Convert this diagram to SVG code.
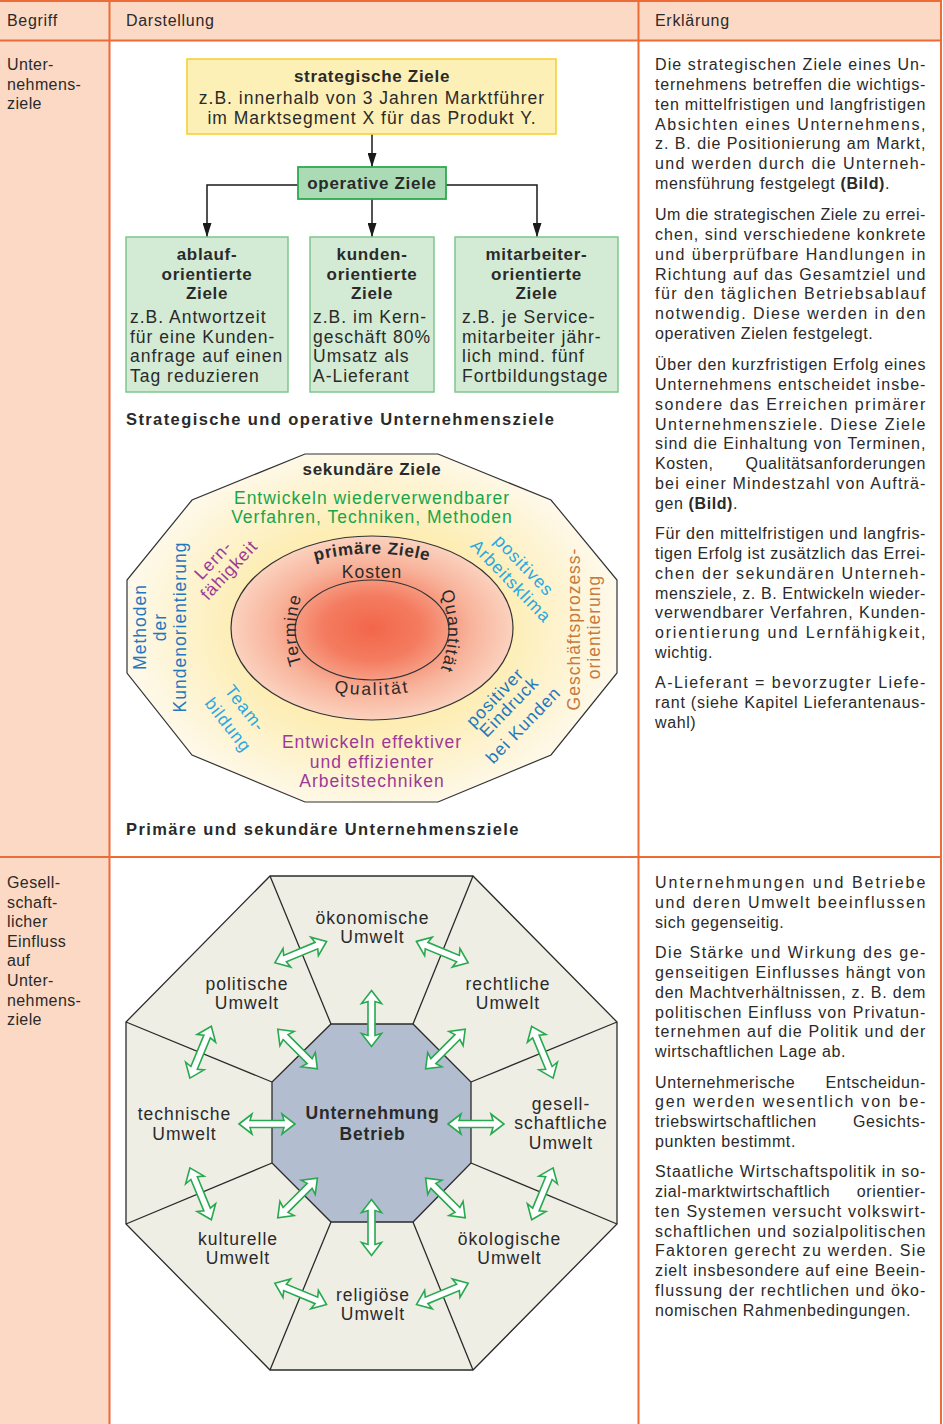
<svg xmlns="http://www.w3.org/2000/svg" width="943" height="1424" viewBox="0 0 943 1424">
<style>
text{font-family:"Liberation Sans",Arial,Helvetica,sans-serif;fill:#2a2a2a}
.hd{font-size:16px;letter-spacing:0.7px}
.c1{font-size:16px;letter-spacing:0.4px}
.ex{font-size:16px;letter-spacing:0.6px}
.dg{font-size:17.5px;letter-spacing:1px}
.dgb{font-size:17px;font-weight:bold;letter-spacing:0.7px}
.cap{font-size:16.5px;font-weight:bold;letter-spacing:1.4px}
.mid{text-anchor:middle}
.end{text-anchor:end}
.b{font-weight:bold}
.grid{stroke:#ec6b36;stroke-width:2;fill:none}
.conn{stroke:#1a1a1a;stroke-width:1.5;fill:none}
.ln{stroke:#2b2b2b;stroke-width:1.3;fill:none}
.green{fill:#17a64a}
.purple{fill:#9b3a98}
.blue{fill:#1f78c0}
.lblue{fill:#28a8e0}
.brown{fill:#c77a3d}
</style>
<defs>
<marker id="ah" markerUnits="userSpaceOnUse" markerWidth="14" markerHeight="9" refX="14" refY="4.5" orient="auto">
<path d="M0,0 L14,4.5 L0,9 Z" fill="#1a1a1a"/>
</marker>
<radialGradient id="secGrad" gradientUnits="userSpaceOnUse" cx="372" cy="628" r="250" gradientTransform="matrix(1 0 0 0.75 0 157)">
<stop offset="0" stop-color="#fce49a"/>
<stop offset="0.55" stop-color="#fdeeb6"/>
<stop offset="1" stop-color="#fef9ec"/>
</radialGradient>
<radialGradient id="primGrad">
<stop offset="0" stop-color="#f2664a"/>
<stop offset="0.35" stop-color="#f47c60"/>
<stop offset="0.7" stop-color="#f8b39b"/>
<stop offset="1" stop-color="#fbd2bf"/>
</radialGradient>
<path id="dbl" d="M-28,0 L-15,-10 L-17,-3.5 L17,-3.5 L15,-10 L28,0 L15,10 L17,3.5 L-17,3.5 L-15,10 Z" fill="#ffffff" stroke="#27a94f" stroke-width="1.6" stroke-linejoin="miter"/>
<path id="arcTop" d="M242,628 A130,74.5 0 0 1 502,628"/>
<path id="arcBot" d="M242,628 A130,67 0 0 0 502,628"/>
<path id="arcLeft" d="M372,720 A76,90 0 0 1 372,540"/>
<path id="arcRight" d="M372,541 A76,90 0 0 1 372,721"/>
</defs>

<g id="table">
<rect x="0" y="0" width="942" height="40" fill="#fcd9c4"/>
<rect x="0" y="40" width="109" height="1384" fill="#fcd9c4"/>
<path class="grid" d="M0,1 H942 M0,40.5 H942 M0,857 H942 M109.5,0 V1424 M638.5,0 V1424 M941,0 V1424"/>
</g>

<g id="header">
<text class="hd" x="7" y="26">Begriff</text>
<text class="hd" x="126" y="26">Darstellung</text>
<text class="hd" x="655" y="26">Erklärung</text>
</g>

<g id="begriff-1">
<text class="c1" x="7" y="70">Unter-</text>
<text class="c1" x="7" y="89.6">nehmens-</text>
<text class="c1" x="7" y="109.2">ziele</text>
</g>

<g id="begriff-2">
<text class="c1" x="7" y="888">Gesell-</text>
<text class="c1" x="7" y="907.6">schaft-</text>
<text class="c1" x="7" y="927.2">licher</text>
<text class="c1" x="7" y="946.8">Einfluss</text>
<text class="c1" x="7" y="966.4">auf</text>
<text class="c1" x="7" y="986">Unter-</text>
<text class="c1" x="7" y="1005.6">nehmens-</text>
<text class="c1" x="7" y="1025.2">ziele</text>
</g>

<!-- Tree diagram -->
<g id="tree-connectors">
<path class="conn" d="M372,134 V167" marker-end="url(#ah)"/>
<path class="conn" d="M298,185 H207 V237" marker-end="url(#ah)"/>
<path class="conn" d="M372,199 V237" marker-end="url(#ah)"/>
<path class="conn" d="M446,185 H537 V237" marker-end="url(#ah)"/>
</g>

<g id="node-strategisch">
<rect x="187" y="59" width="369" height="75" fill="#fdf0b6" stroke="#f5d234" stroke-width="1.6"/>
<text class="dgb mid" x="372" y="82">strategische Ziele</text>
<text class="dg mid" x="372" y="103.5">z.B. innerhalb von 3 Jahren Marktführer</text>
<text class="dg mid" x="372" y="124">im Marktsegment X für das Produkt Y.</text>
</g>

<g id="node-operativ">
<rect x="298" y="167" width="148" height="32" fill="#aadbb5" stroke="#2ea84f" stroke-width="1.8"/>
<text class="dgb mid" x="372" y="189">operative Ziele</text>
</g>

<g id="node-ablauf">
<rect x="126" y="237" width="162" height="155" fill="#d3ebd4" stroke="#7cc88a" stroke-width="1.5"/>
<text class="dgb mid" x="207" y="260">ablauf-</text>
<text class="dgb mid" x="207" y="279.5">orientierte</text>
<text class="dgb mid" x="207" y="299">Ziele</text>
<text class="dg" x="130" y="323">z.B. Antwortzeit</text>
<text class="dg" x="130" y="342.5">für eine Kunden-</text>
<text class="dg" x="130" y="362">anfrage auf einen</text>
<text class="dg" x="130" y="381.5">Tag reduzieren</text>
</g>

<g id="node-kunden">
<rect x="310" y="237" width="124" height="155" fill="#d3ebd4" stroke="#7cc88a" stroke-width="1.5"/>
<text class="dgb mid" x="372" y="260">kunden-</text>
<text class="dgb mid" x="372" y="279.5">orientierte</text>
<text class="dgb mid" x="372" y="299">Ziele</text>
<text class="dg" x="313" y="323">z.B. im Kern-</text>
<text class="dg" x="313" y="342.5">geschäft 80%</text>
<text class="dg" x="313" y="362">Umsatz als</text>
<text class="dg" x="313" y="381.5">A-Lieferant</text>
</g>

<g id="node-mitarbeiter">
<rect x="455" y="237" width="163" height="155" fill="#d3ebd4" stroke="#7cc88a" stroke-width="1.5"/>
<text class="dgb mid" x="536.5" y="260">mitarbeiter-</text>
<text class="dgb mid" x="536.5" y="279.5">orientierte</text>
<text class="dgb mid" x="536.5" y="299">Ziele</text>
<text class="dg" x="462" y="323">z.B. je Service-</text>
<text class="dg" x="462" y="342.5">mitarbeiter jähr-</text>
<text class="dg" x="462" y="362">lich mind. fünf</text>
<text class="dg" x="462" y="381.5">Fortbildungstage</text>
</g>

<g id="caption-1">
<text class="cap" x="126" y="425">Strategische und operative Unternehmensziele</text>
</g>

<!-- Primary / secondary goals -->
<g id="sekundaere-ziele">
<polygon points="305,454 438,454 551,500 617,580 617,673 551,755 438,802 305,802 192,755 127,673 127,580 192,500" fill="url(#secGrad)" stroke="#333" stroke-width="1.2"/>
<text class="dgb mid" x="372" y="475">sekundäre Ziele</text>
<text class="dg mid green" x="372" y="504">Entwickeln wiederverwendbarer</text>
<text class="dg mid green" x="372" y="522.5">Verfahren, Techniken, Methoden</text>
<text class="dg mid purple" transform="translate(217.4,564.1) rotate(-47)">Lern-</text>
<text class="dg mid purple" transform="translate(233.4,574.1) rotate(-47)">fähigkeit</text>
<text class="dg mid blue" transform="translate(146,627) rotate(-90)">Methoden</text>
<text class="dg mid blue" transform="translate(166,627) rotate(-90)">der</text>
<text class="dg mid blue" transform="translate(185.5,627) rotate(-90)">Kundenorientierung</text>
<text class="dg mid lblue" transform="translate(519.7,569.5) rotate(46)">positives</text>
<text class="dg mid lblue" transform="translate(506.7,585.2) rotate(46)">Arbeitsklima</text>
<text class="dg mid brown" transform="translate(580,629) rotate(-90)">Geschäftsprozess-</text>
<text class="dg mid brown" transform="translate(600,627) rotate(-90)">orientierung</text>
<text class="dg mid lblue" transform="translate(240.5,712) rotate(52)">Team-</text>
<text class="dg mid lblue" transform="translate(223.5,728.5) rotate(52)">bildung</text>
<text class="dg mid blue" transform="translate(499.3,701.5) rotate(-46)">positiver</text>
<text class="dg mid blue" transform="translate(513.3,711) rotate(-46)">Eindruck</text>
<text class="dg mid blue" transform="translate(527.6,729.2) rotate(-46)">bei Kunden</text>
<text class="dg mid purple" x="372" y="748">Entwickeln effektiver</text>
<text class="dg mid purple" x="372" y="767.5">und effizienter</text>
<text class="dg mid purple" x="372" y="787">Arbeitstechniken</text>
</g>

<g id="primaere-ziele">
<ellipse cx="372" cy="628" rx="141" ry="92" fill="url(#primGrad)" stroke="#333" stroke-width="1.2"/>
<ellipse cx="372" cy="630" rx="77" ry="50" fill="none" stroke="#333" stroke-width="1.2"/>
<text class="dgb"><textPath href="#arcTop" startOffset="50%" text-anchor="middle">primäre Ziele</textPath></text>
<text class="dg mid" x="372" y="578">Kosten</text>
<text class="dg"><textPath href="#arcLeft" startOffset="50%" text-anchor="middle">Termine</textPath></text>
<text class="dg"><textPath href="#arcRight" startOffset="50%" text-anchor="middle">Quantität</textPath></text>
<text class="dg" style="letter-spacing:2px"><textPath href="#arcBot" startOffset="50%" text-anchor="middle">Qualität</textPath></text>
</g>

<g id="caption-2">
<text class="cap" x="126" y="835">Primäre und sekundäre Unternehmensziele</text>
</g>

<!-- Umwelt octagon -->
<g id="umwelt-outer">
<polygon points="270,876 473,876 617,1022 617,1224 473,1370 270,1370 126,1224 126,1022" fill="#efeee5" stroke="#2b2b2b" stroke-width="1.3"/>
<path class="ln" d="M331,1024 L270,876 M413,1024 L473,876 M471,1082 L617,1022 M471,1163 L617,1224 M413,1222 L473,1370 M331,1222 L270,1370 M272,1163 L126,1224 M272,1082 L126,1022"/>
</g>

<g id="node-oekonomisch"><text class="dg mid" x="372.5" y="923.5">ökonomische</text><text class="dg mid" x="372.5" y="943">Umwelt</text></g>
<g id="node-politisch"><text class="dg mid" x="247" y="989.5">politische</text><text class="dg mid" x="247" y="1009">Umwelt</text></g>
<g id="node-rechtlich"><text class="dg mid" x="508" y="989.5">rechtliche</text><text class="dg mid" x="508" y="1009">Umwelt</text></g>
<g id="node-technisch"><text class="dg mid" x="184.5" y="1120">technische</text><text class="dg mid" x="184.5" y="1139.5">Umwelt</text></g>
<g id="node-gesellschaftlich"><text class="dg mid" x="561" y="1109.5">gesell-</text><text class="dg mid" x="561" y="1129">schaftliche</text><text class="dg mid" x="561" y="1148.5">Umwelt</text></g>
<g id="node-kulturell"><text class="dg mid" x="238" y="1244.5">kulturelle</text><text class="dg mid" x="238" y="1264">Umwelt</text></g>
<g id="node-oekologisch"><text class="dg mid" x="509.5" y="1244.5">ökologische</text><text class="dg mid" x="509.5" y="1264">Umwelt</text></g>
<g id="node-religioes"><text class="dg mid" x="373" y="1300.5">religiöse</text><text class="dg mid" x="373" y="1320">Umwelt</text></g>

<g id="node-unternehmung">
<polygon points="331,1024 413,1024 471,1082 471,1163 413,1222 331,1222 272,1163 272,1082" fill="#b2bed0" stroke="#2b2b2b" stroke-width="1.3"/>
<text class="mid" x="372.5" y="1118.5" style="font-size:17.5px;font-weight:bold;letter-spacing:0.8px">Unternehmung</text>
<text class="mid" x="372.5" y="1140" style="font-size:17.5px;font-weight:bold;letter-spacing:0.8px">Betrieb</text>
</g>

<g id="umwelt-connectors">
<use href="#dbl" transform="translate(371.5,1018.5) rotate(90)"/>
<use href="#dbl" transform="translate(445.4,1049.1) rotate(-45)"/>
<use href="#dbl" transform="translate(476,1124)"/>
<use href="#dbl" transform="translate(445.4,1197.9) rotate(45)"/>
<use href="#dbl" transform="translate(371.5,1227.5) rotate(90)"/>
<use href="#dbl" transform="translate(297.6,1197.9) rotate(-45)"/>
<use href="#dbl" transform="translate(267,1124)"/>
<use href="#dbl" transform="translate(297.6,1049.1) rotate(45)"/>
<use href="#dbl" transform="translate(300.7,952.1) rotate(-22.5)"/>
<use href="#dbl" transform="translate(442.3,952.1) rotate(22.5)"/>
<use href="#dbl" transform="translate(542.4,1052.2) rotate(67.5)"/>
<use href="#dbl" transform="translate(542.4,1193.8) rotate(-67.5)"/>
<use href="#dbl" transform="translate(442.3,1293.9) rotate(-22.5)"/>
<use href="#dbl" transform="translate(300.7,1293.9) rotate(22.5)"/>
<use href="#dbl" transform="translate(200.6,1193.8) rotate(67.5)"/>
<use href="#dbl" transform="translate(200.6,1052.2) rotate(-67.5)"/>
</g>

<!-- Explanations -->
<g id="erklaerung-1">
<text class="ex" x="655" y="70" textLength="271" lengthAdjust="spacing">Die strategischen Ziele eines Un-</text>
<text class="ex" x="655" y="89.85" textLength="271" lengthAdjust="spacing">ternehmens betreffen die wichtigs-</text>
<text class="ex" x="655" y="109.7" textLength="271" lengthAdjust="spacing">ten mittelfristigen und langfristigen</text>
<text class="ex" x="655" y="129.55" textLength="271" lengthAdjust="spacing">Absichten eines Unternehmens,</text>
<text class="ex" x="655" y="149.4" textLength="271" lengthAdjust="spacing">z. B. die Positionierung am Markt,</text>
<text class="ex" x="655" y="169.25" textLength="271" lengthAdjust="spacing">und werden durch die Unterneh-</text>
<text class="ex" x="655" y="189.1">mensführung festgelegt <tspan class="b">(Bild)</tspan>.</text>

<text class="ex" x="655" y="220" textLength="271" lengthAdjust="spacing">Um die strategischen Ziele zu errei-</text>
<text class="ex" x="655" y="239.85" textLength="271" lengthAdjust="spacing">chen, sind verschiedene konkrete</text>
<text class="ex" x="655" y="259.7" textLength="271" lengthAdjust="spacing">und überprüfbare Handlungen in</text>
<text class="ex" x="655" y="279.55" textLength="271" lengthAdjust="spacing">Richtung auf das Gesamtziel und</text>
<text class="ex" x="655" y="299.4" textLength="271" lengthAdjust="spacing">für den täglichen Betriebsablauf</text>
<text class="ex" x="655" y="319.25" textLength="271" lengthAdjust="spacing">notwendig. Diese werden in den</text>
<text class="ex" x="655" y="339.1">operativen Zielen festgelegt.</text>

<text class="ex" x="655" y="370" textLength="271" lengthAdjust="spacing">Über den kurzfristigen Erfolg eines</text>
<text class="ex" x="655" y="389.85" textLength="271" lengthAdjust="spacing">Unternehmens entscheidet insbe-</text>
<text class="ex" x="655" y="409.7" textLength="271" lengthAdjust="spacing">sondere das Erreichen primärer</text>
<text class="ex" x="655" y="429.55" textLength="271" lengthAdjust="spacing">Unternehmensziele. Diese Ziele</text>
<text class="ex" x="655" y="449.4" textLength="271" lengthAdjust="spacing">sind die Einhaltung von Terminen,</text>
<text class="ex" x="655" y="469.25">Kosten,</text><text class="ex end" x="926" y="469.25">Qualitätsanforderungen</text>
<text class="ex" x="655" y="489.1" textLength="271" lengthAdjust="spacing">bei einer Mindestzahl von Aufträ-</text>
<text class="ex" x="655" y="508.95">gen <tspan class="b">(Bild)</tspan>.</text>

<text class="ex" x="655" y="539" textLength="271" lengthAdjust="spacing">Für den mittelfristigen und langfris-</text>
<text class="ex" x="655" y="558.85" textLength="271" lengthAdjust="spacing">tigen Erfolg ist zusätzlich das Errei-</text>
<text class="ex" x="655" y="578.7" textLength="271" lengthAdjust="spacing">chen der sekundären Unterneh-</text>
<text class="ex" x="655" y="598.55" textLength="271" lengthAdjust="spacing">mensziele, z. B. Entwickeln wieder-</text>
<text class="ex" x="655" y="618.4" textLength="271" lengthAdjust="spacing">verwendbarer Verfahren, Kunden-</text>
<text class="ex" x="655" y="638.25" textLength="271" lengthAdjust="spacing">orientierung und Lernfähigkeit,</text>
<text class="ex" x="655" y="658.1">wichtig.</text>

<text class="ex" x="655" y="688" textLength="271" lengthAdjust="spacing">A-Lieferant = bevorzugter Liefe-</text>
<text class="ex" x="655" y="707.85" textLength="271" lengthAdjust="spacing">rant (siehe Kapitel Lieferantenaus-</text>
<text class="ex" x="655" y="727.7">wahl)</text>
</g>

<g id="erklaerung-2">
<text class="ex" x="655" y="888" textLength="271" lengthAdjust="spacing">Unternehmungen und Betriebe</text>
<text class="ex" x="655" y="907.85" textLength="271" lengthAdjust="spacing">und deren Umwelt beeinflussen</text>
<text class="ex" x="655" y="927.7">sich gegenseitig.</text>

<text class="ex" x="655" y="958" textLength="271" lengthAdjust="spacing">Die Stärke und Wirkung des ge-</text>
<text class="ex" x="655" y="977.85" textLength="271" lengthAdjust="spacing">genseitigen Einflusses hängt von</text>
<text class="ex" x="655" y="997.7" textLength="271" lengthAdjust="spacing">den Machtverhältnissen, z. B. dem</text>
<text class="ex" x="655" y="1017.55" textLength="271" lengthAdjust="spacing">politischen Einfluss von Privatun-</text>
<text class="ex" x="655" y="1037.4" textLength="271" lengthAdjust="spacing">ternehmen auf die Politik und der</text>
<text class="ex" x="655" y="1057.25">wirtschaftlichen Lage ab.</text>

<text class="ex" x="655" y="1087.5">Unternehmerische</text><text class="ex end" x="926" y="1087.5">Entscheidun-</text>
<text class="ex" x="655" y="1107.35" textLength="271" lengthAdjust="spacing">gen werden wesentlich von be-</text>
<text class="ex" x="655" y="1127.2">triebswirtschaftlichen</text><text class="ex end" x="926" y="1127.2">Gesichts-</text>
<text class="ex" x="655" y="1147.05">punkten bestimmt.</text>

<text class="ex" x="655" y="1177" textLength="271" lengthAdjust="spacing">Staatliche Wirtschaftspolitik in so-</text>
<text class="ex" x="655" y="1196.85">zial-marktwirtschaftlich</text><text class="ex end" x="926" y="1196.85">orientier-</text>
<text class="ex" x="655" y="1216.7" textLength="271" lengthAdjust="spacing">ten Systemen versucht volkswirt-</text>
<text class="ex" x="655" y="1236.55" textLength="271" lengthAdjust="spacing">schaftlichen und sozialpolitischen</text>
<text class="ex" x="655" y="1256.4" textLength="271" lengthAdjust="spacing">Faktoren gerecht zu werden. Sie</text>
<text class="ex" x="655" y="1276.25" textLength="271" lengthAdjust="spacing">zielt insbesondere auf eine Beein-</text>
<text class="ex" x="655" y="1296.1" textLength="271" lengthAdjust="spacing">flussung der rechtlichen und öko-</text>
<text class="ex" x="655" y="1315.95">nomischen Rahmenbedingungen.</text>
</g>
</svg>
